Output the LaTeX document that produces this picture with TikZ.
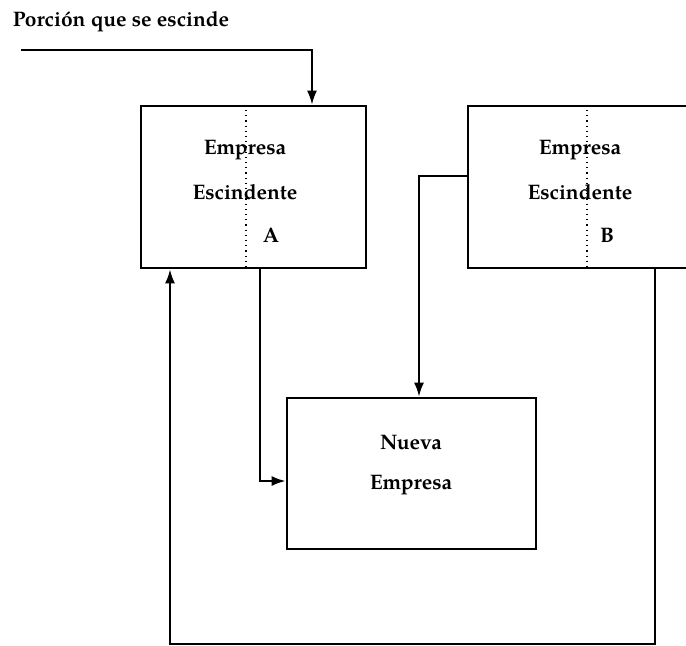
\documentclass[tikz,border=0pt]{standalone}
\usepackage{fontspec}
\setmainfont{TeX Gyre Pagella}
\usetikzlibrary{arrows.meta,positioning}

\begin{document}
\begin{tikzpicture}[
  x=0.5pt, y=-0.5pt,
  box/.style={draw, line width=1.3pt, minimum width=112.5pt, minimum height=81pt, inner sep=0pt},
  txt/.style={font=\fontsize{10.5}{13}\selectfont\bfseries, inner sep=0pt},
  arr/.style={-{Latex[length=7pt,width=5pt]}, line width=1.1pt},
  sep/.style={dotted, line width=0.6pt}
]
\useasboundingbox (0,0) rectangle (686,645);

\node[box] (a) at (253.5,187) {};
\node[box] (b) at (580.5,187) {};
\node[box, minimum width=124.5pt, minimum height=75.5pt] (n) at (411.5,473.5) {};

\node[txt] (lbl) at (121,22) {Porción que se escinde};
\node[txt] (a1) at (245,150) {Empresa};
\node[txt] (a2) at (245,192) {Escindente};
\node[txt] (a3) at (271,235) {A};
\node[txt] (b1) at (580,150) {Empresa};
\node[txt] (b2) at (580,192) {Escindente};
\node[txt] (b3) at (607,235) {B};
\node[txt] (n1) at (411,443) {Nueva};
\node[txt] (n2) at (411,485) {Empresa};
\coordinate (in) at (21,50);

\draw[sep] ([xshift=-3.75pt]a.north) -- ([xshift=-3.75pt]a.south);
\draw[sep] ([xshift=3.25pt]b.north) -- ([xshift=3.25pt]b.south);
\draw[arr] (in) -| ([xshift=29.25pt]a.north);
\draw[arr] ([xshift=3.25pt]a.south) |- ([yshift=-3.75pt]n.west);
\draw[arr] ([yshift=5.5pt]b.west) -| ([xshift=3.75pt]n.north);
\draw[arr] ([xshift=37.25pt]b.south) -- ++(0,375) -| ([xshift=-41.75pt]a.south);
\end{tikzpicture}
\end{document}
